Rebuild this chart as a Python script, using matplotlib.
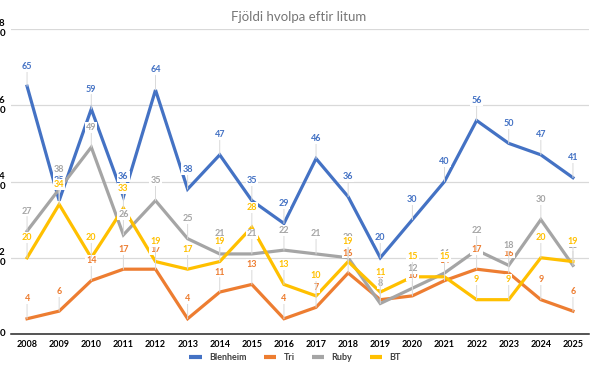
import matplotlib
matplotlib.use("Agg")
import matplotlib.pyplot as plt
from matplotlib.lines import Line2D

years = [str(y) for y in range(2008, 2026)]
blenheim = [65, 35, 59, 36, 64, 38, 47, 35, 29, 46, 36, 20, 30, 40, 56, 50, 47, 41]
tri = [4, 6, 14, 17, 17, 4, 11, 13, 4, 7, 16, 9, 10, 14, 17, 16, 9, 6]
ruby = [27, 38, 49, 26, 35, 25, 21, 21, 22, 21, 20, 8, 12, 16, 22, 18, 30, 18]
bt = [20, 34, 20, 33, 19, 17, 19, 28, 13, 10, 19, 11, 15, 15, 9, 9, 20, 19]
series_names = ["Blenheim", "Tri", "Ruby", "BT"]
colors = ["#4472C4", "#ED7D31", "#A5A5A5", "#FFC000"]
yticks = [0, 20, 40, 60, 80]
ytick_labels = ["0", "20", "40", "60", "80"]
title = "Fjöldi hvolpa eftir litum"

plt.rcParams['font.family'] = ['Lato', 'DejaVu Sans']

W, H = 600, 371
fig = plt.figure(figsize=(W/100, H/100), dpi=100)
ax = fig.add_axes([11/W, 1 - 334/H, 578/W, (334 - 29)/H])

x = list(range(len(years)))
data = [blenheim, tri, ruby, bt]
for vals, c, n in zip(data, colors, series_names):
    ax.plot(x, vals, color=c, lw=2.3, solid_joinstyle='miter', zorder=3, label=n)

for vals, c in zip(data, colors):
    for xi, v in zip(x, vals):
        ax.annotate(str(v), xy=(xi, v), xytext=(0, 14.4), textcoords='offset points',
                    ha='center', va='center', fontsize=6.5, fontweight='bold', color=c,
                    bbox=dict(boxstyle='square,pad=0.1', fc='white', ec='none'),
                    arrowprops=dict(arrowstyle='-', color='#D9D9D9', lw=0.7,
                                    shrinkA=0, shrinkB=0),
                    zorder=5)

ax.set_xlim(-0.5, len(years) - 0.5)
ax.set_ylim(0, 80)
ax.set_yticks(yticks)
ax.set_yticklabels([])
ax.set_xticks(x)
ax.set_xticklabels(years, fontsize=6.5, fontweight='bold')
ax.tick_params(axis='both', length=0)
ax.tick_params(axis='x', pad=4)
ax.grid(axis='y', color='#D9D9D9', lw=0.9, zorder=0)
ax.set_axisbelow(True)
for s in ['top', 'right', 'left']:
    ax.spines[s].set_visible(False)
ax.spines['bottom'].set_color('#262626')
ax.spines['bottom'].set_linewidth(1.1)

# y tick labels, wrapped into two lines as in the reference (digits stacked)
trans = ax.get_yaxis_transform()
for t, lab in zip(yticks, ytick_labels):
    if len(lab) == 1:
        ax.text(-6/578, t, lab, transform=trans, ha='right', va='center',
                fontsize=7, fontweight='bold', color='black', clip_on=False)
    else:
        ax.annotate(lab[0], xy=(0, t), xycoords=trans, xytext=(-6.5, 5),
                    textcoords='offset pixels', ha='right', va='center',
                    fontsize=7, fontweight='bold', color='black')
        ax.annotate(lab[1], xy=(0, t), xycoords=trans, xytext=(-6, -5),
                    textcoords='offset pixels', ha='right', va='center',
                    fontsize=7, fontweight='bold', color='black')

fig.text(0.497, 1 - 17/H, title, ha='center', va='center', fontsize=9.5, color='#767676')

handles = [Line2D([0], [0], color=c, lw=3, solid_capstyle='butt') for c in colors]
fig.legend(handles, series_names, loc='center', bbox_to_anchor=(295/W, 1 - 358/H),
           ncol=4, frameon=False, prop={'size': 6.5, 'weight': 'bold'},
           handlelength=1.4, handletextpad=0.8, columnspacing=1.9, labelcolor='#404040')

fig.savefig("out.png", dpi=100)
